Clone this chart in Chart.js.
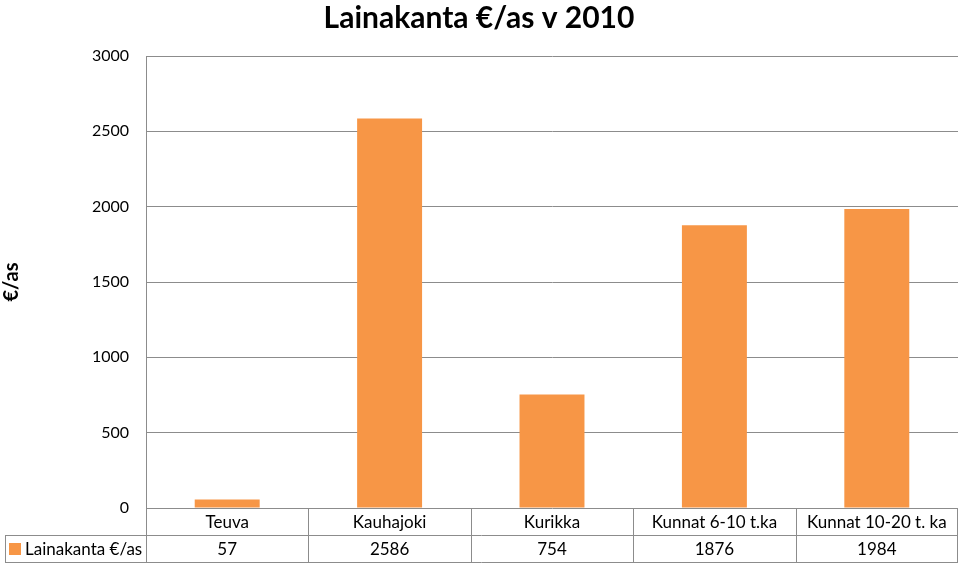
<!DOCTYPE html>
<html>
<head>
<meta charset="utf-8">
<script src="https://cdn.jsdelivr.net/npm/chart.js@4.4.0/dist/chart.umd.min.js"></script>
<style>
  html, body { margin:0; padding:0; background:#fff; }
  #wrap { width:959px; height:568px; }
</style>
</head>
<body>
<div id="wrap"><canvas id="chart" width="959" height="568"></canvas></div>
<script>
const categories = ['Teuva', 'Kauhajoki', 'Kurikka', 'Kunnat 6-10 t.ka', 'Kunnat 10-20 t. ka'];
const seriesName = 'Lainakanta €/as';
const values = [57, 2586, 754, 1876, 1984];
const yTicks = [0, 500, 1000, 1500, 2000, 2500, 3000];

const FONT = 'Lato, "Open Sans", sans-serif';
const GRID = '#8c8c8c';
const ORANGE = '#F79646';

// draws the data table under the plot (category row + value row)
const dataTable = {
  id: 'dataTable',
  afterDraw(chart) {
    const ctx = chart.ctx;
    const x = chart.scales.x;
    const area = chart.chartArea;
    const rowH = 27;
    const top = area.bottom;
    const mid = top + rowH;
    const bot = mid + rowH;
    const legendLeft = 5;
    const step = (area.right - area.left) / categories.length;

    ctx.save();
    ctx.strokeStyle = GRID;
    ctx.lineWidth = 1;
    ctx.beginPath();
    ctx.moveTo(legendLeft, mid + 0.5); ctx.lineTo(area.right, mid + 0.5);
    ctx.moveTo(legendLeft, bot + 0.5); ctx.lineTo(area.right, bot + 0.5);
    ctx.moveTo(legendLeft + 0.5, mid); ctx.lineTo(legendLeft + 0.5, bot);
    for (let i = 0; i <= categories.length; i++) {
      const px = Math.round(area.left + step * i) - (i === categories.length ? 1 : 0) + 0.5;
      ctx.moveTo(px, top); ctx.lineTo(px, bot);
    }
    ctx.stroke();

    ctx.fillStyle = '#000';
    ctx.font = '17px ' + FONT;
    ctx.textAlign = 'center';
    ctx.textBaseline = 'middle';
    categories.forEach((c, i) => {
      const cx = x.getPixelForValue(i);
      ctx.fillText(c, cx, top + rowH / 2 + 1);
      ctx.fillText(String(values[i]), cx, mid + rowH / 2 + 1);
    });

    ctx.fillStyle = ORANGE;
    ctx.fillRect(9, mid + 8, 12, 12);
    ctx.fillStyle = '#000';
    ctx.textAlign = 'left';
    ctx.fillText(seriesName, 25, mid + rowH / 2 + 1);
    ctx.restore();
  }
};

new Chart(document.getElementById('chart'), {
  type: 'bar',
  data: {
    labels: categories,
    datasets: [{
      label: seriesName,
      data: values,
      backgroundColor: ORANGE,
      barPercentage: 0.4,
      categoryPercentage: 1
    }]
  },
  options: {
    responsive: false,
    animation: false,
    layout: { padding: { top: 0, right: 1, bottom: 60, left: 0 } },
    plugins: {
      legend: { display: false },
      tooltip: { enabled: false },
      title: {
        display: true,
        text: 'Lainakanta €/as v 2010',
        color: '#000',
        font: { family: FONT, size: 30, weight: 'bold' },
        padding: { top: 0, bottom: 20 }
      }
    },
    scales: {
      x: {
        ticks: { display: false },
        grid: { display: false, drawTicks: false },
        border: { display: false },
        afterFit(s) { s.height = 0; }
      },
      y: {
        min: 0,
        max: 3000,
        afterBuildTicks(s) { s.ticks = yTicks.map(v => ({ value: v })); },
        ticks: { color: '#000', font: { family: FONT, size: 16 }, padding: 17, callback: v => String(v) },
        grid: { color: GRID, drawTicks: false },
        border: { color: GRID },
        title: {
          display: true,
          text: '€/as',
          color: '#000',
          font: { family: FONT, size: 20, weight: 'bold' },
          padding: { top: 0, bottom: 0 }
        },
        afterFit(s) { s.width = 146; }
      }
    }
  },
  plugins: [dataTable]
});
</script>
</body>
</html>
